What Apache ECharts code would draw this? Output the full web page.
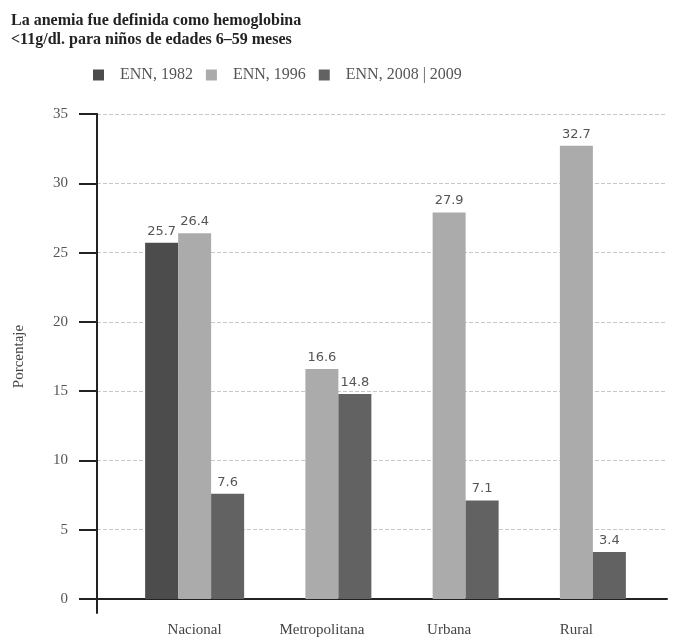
<!DOCTYPE html>
<html>
<head>
<meta charset="utf-8">
<script src="https://cdn.jsdelivr.net/npm/echarts@6/dist/echarts.min.js"></script>
<style>html,body{margin:0;padding:0;background:#fff;}#c{width:673px;height:640px;}</style>
</head>
<body>
<div id="c"></div>
<script>
var titleLines = ['La anemia fue definida como hemoglobina', '<11g/dl. para niños de edades 6–59 meses'];
var categories = ['Nacional', 'Metropolitana', 'Urbana', 'Rural'];
var seriesNames = ['ENN, 1982', 'ENN, 1996', 'ENN, 2008 | 2009'];
var enn1982 = [25.7, null, null, null];
var enn1996 = [26.4, 16.6, 27.9, 32.7];
var enn2008 = [7.6, 14.8, 7.1, 3.4];
var yTicks = [0, 5, 10, 15, 20, 25, 30, 35];
var yName = 'Porcentaje';

var colors = ['#4c4c4c', '#ababab', '#626262'];
var serif = 'Liberation Serif';
var TOP = 114, BOTTOM = 41;

var chart = echarts.init(document.getElementById('c'), null, {renderer: 'canvas'});
var labelStyle = {show: true, position: 'top', distance: 5, fontFamily: 'DejaVu Sans', fontSize: 13, color: '#555',
  formatter: function (p) { return p.value == null ? '' : p.value.toFixed(1); }};
function bar(name, data, i) {
  return {name: name, type: 'bar', xAxisIndex: 0, yAxisIndex: 0, data: data, barWidth: 33, barGap: '0%',
    itemStyle: {color: colors[i]}, label: labelStyle};
}
var yMin = yTicks[0], yMax = yTicks[yTicks.length - 1], yStep = yTicks[1] - yTicks[0];
chart.setOption({
  animation: false,
  title: {text: titleLines.join('\n'), left: 6, top: 6,
    textStyle: {fontFamily: serif, fontWeight: 'bold', fontSize: 16, lineHeight: 19, color: '#222'}},
  legend: {data: seriesNames, left: 88, top: 62, itemWidth: 11, itemHeight: 11, itemGap: 13, icon: 'rect',
    textStyle: {fontFamily: serif, fontSize: 16, color: '#555', padding: [0, 0, 0, 11]}},
  grid: [
    {left: 131, right: 33, top: TOP, bottom: BOTTOM},
    {left: 97, right: 6, top: TOP, bottom: BOTTOM},
    {left: 97, right: 6, top: TOP, bottom: 27}
  ],
  xAxis: [
    {type: 'category', gridIndex: 0, data: categories, axisLine: {show: false}, axisTick: {show: false},
      axisLabel: {margin: 24, fontFamily: serif, fontSize: 15, color: '#444'}},
    {type: 'value', gridIndex: 1, min: 0, max: 1, axisLabel: {show: false}, axisTick: {show: false},
      splitLine: {show: false}, axisLine: {show: true, lineStyle: {color: '#222', width: 2}}},
    {type: 'value', gridIndex: 2, show: false}
  ],
  yAxis: [
    {type: 'value', gridIndex: 0, min: yMin, max: yMax, interval: yStep, show: false},
    {type: 'value', gridIndex: 1, min: yMin, max: yMax, interval: yStep,
      name: yName, nameLocation: 'middle', nameGap: 70,
      nameTextStyle: {fontFamily: serif, fontSize: 15, color: '#444'},
      axisLine: {show: true, lineStyle: {color: '#222', width: 2}},
      axisTick: {show: true, length: 18, lineStyle: {color: '#222', width: 2}},
      axisLabel: {margin: 29, fontFamily: serif, fontSize: 15, color: '#555'},
      splitLine: {show: true, lineStyle: {color: '#c8c8c8', type: 'dashed', width: 1}}},
    {type: 'value', gridIndex: 2, min: 0, max: 1, axisLabel: {show: false}, axisTick: {show: false},
      splitLine: {show: false}, axisLine: {show: true, onZero: false, lineStyle: {color: '#222', width: 2}}}
  ],
  series: [bar(seriesNames[0], enn1982, 0), bar(seriesNames[1], enn1996, 1), bar(seriesNames[2], enn2008, 2)]
});
</script>
</body>
</html>
